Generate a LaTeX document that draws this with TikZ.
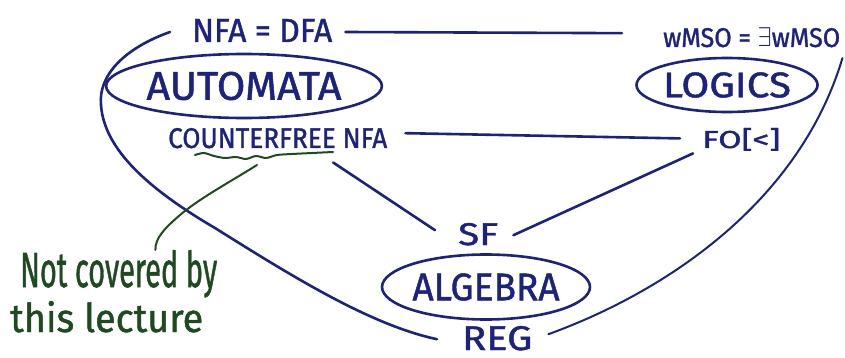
\documentclass[tikz,border=0pt]{standalone}
\usepackage{fontspec}
\usepackage{graphicx}
\setmainfont[FakeBold=1.2]{Fira Sans}
\usetikzlibrary{shapes.geometric}
\definecolor{ink}{RGB}{28,34,128}
\definecolor{note}{RGB}{30,74,32}
% fit a hand-lettered label into a given width and letter height (in pt)
\newcommand\lettered[3]{\resizebox{#1pt}{#2pt}{#3}}
\tikzset{
  lbl/.style={anchor=base west, inner sep=0pt, text=ink},
  ring/.style={draw=ink, ellipse, line width=2.6pt, inner sep=0pt, text=ink},
  link/.style={draw=ink, line width=2.6pt, line cap=round},
  remark/.style={anchor=base west, inner sep=0pt, text=note},
  remarkline/.style={draw=note, line width=2pt, line cap=round},
}
\begin{document}
\begin{tikzpicture}[x=1pt, y=-1pt]
\useasboundingbox (0,0) rectangle (845,358);

% automata side
\node[lbl] (nfa) at (192,42) {\lettered{140}{23}{NFA = DFA}};
\node[ring, minimum width=232pt, minimum height=64pt] (automata) at (244,86)
  {\lettered{195}{28}{AUTOMATA}};
\node[lbl] (cf) at (168,148) {\lettered{219}{20}{COUNTERFREE NFA}};

% logic side
\node[lbl] (wmso) at (663,47) {\lettered{177}{19}{wMSO = $\exists$wMSO}};
\node[ring, minimum width=153pt, minimum height=54pt] (logics) at (727,85)
  {\lettered{128}{25}{LOGICS}};
\node[lbl] (fo) at (702,148) {\lettered{78}{20}{FO[<]}};

% algebra side
\node[lbl] (sf) at (458,245) {\lettered{40}{22}{SF}};
\node[ring, minimum width=182pt, minimum height=65pt] (algebra) at (486,287)
  {\lettered{147}{27}{ALGEBRA}};
\node[lbl] (reg) at (462,350) {\lettered{70}{24}{REG}};

% equivalences
\draw[link] ([shift={(13,1.5)}]nfa.east) -- ([shift={(-41,-4.5)}]wmso.west);
\draw[link] ([shift={(18,-5)}]cf.east) -- ([shift={(-22,-1)}]fo.west);
\draw[link] ([shift={(55.5,14)}]cf.south) -- ([shift={(-23,-4)}]sf.west);
\draw[link] ([shift={(15,1)}]sf.east) -- ([shift={(-9,14)}]fo.west);
\draw[link] ([shift={(-22,1.5)}]nfa.west)
  .. controls (125,48) and (98,75) .. (101,105)
  .. controls (104,150) and (150,190) .. (215,228)
  .. controls (290,275) and (370,325) .. ([shift={(-25,1)}]reg.west);
\draw[link, line width=2pt] ([shift={(16,-4)}]reg.east)
  .. controls (670,290) and (800,200) .. ([shift={(2,20.5)}]wmso.east);

% remark on counter-free automata
\node[remark] (notcov) at (20,287) {\lettered{197}{37}{Not covered by}};
\node[remark] (lecture) at (10,332) {\lettered{193}{31}{this lecture}};
\coordinate (wave) at (257,165);
\draw[remarkline] plot[smooth] coordinates {(195,155) (204,153) (214,156) (225,158)
  (236,157) (246,159) (256,156) (266,158) (277,155) (292,154) (312,153) (333,152)};
\draw[remarkline] (wave)
  .. controls (230,182) and (200,198) .. (180,215)
  .. controls (165,228) and (155,238) .. ([shift={(-62,-37)}]notcov.base east);
\end{tikzpicture}
\end{document}
